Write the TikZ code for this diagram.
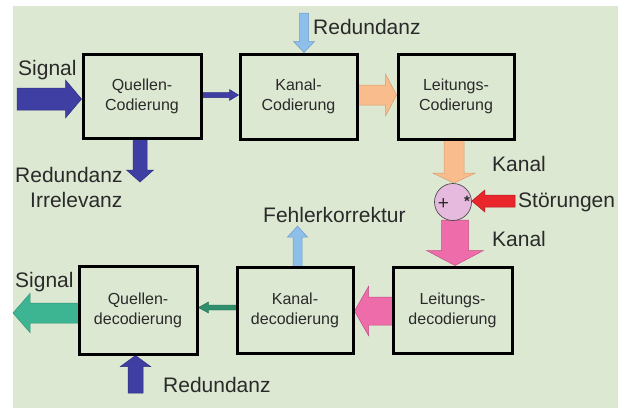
\documentclass[tikz,border=0pt]{standalone}
\usepackage{fontspec}
\setmainfont{Liberation Sans}
\usetikzlibrary{calc,backgrounds}
\definecolor{bgc}{HTML}{DDE8D3}
\definecolor{dblue}{HTML}{3F3FA3}
\definecolor{dbluel}{HTML}{2E2E80}
\definecolor{lblue}{HTML}{8DBFEA}
\definecolor{lbluel}{HTML}{6A9CCB}
\definecolor{peach}{HTML}{F9BD8D}
\definecolor{peachl}{HTML}{D89A6A}
\definecolor{redc}{HTML}{E8262B}
\definecolor{redl}{HTML}{B01A1E}
\definecolor{pinkc}{HTML}{EE6CA9}
\definecolor{pinkl}{HTML}{C24E86}
\definecolor{dgreen}{HTML}{2F8F6C}
\definecolor{teal}{HTML}{3DB592}
\definecolor{teall}{HTML}{2E9576}
\definecolor{circc}{HTML}{E6B9DF}
\definecolor{txt}{HTML}{2A2A2A}
% horizontal block arrow: style, from, to, shaft half, head half, head length
\newcommand\harrow[6]{\filldraw[#1] let \p1=#2, \p2=#3, \n1={ifthenelse(\x2>\x1,1,-1)} in
  ({\x1},{\y1+#4}) -- ({\x2-(\n1)*#6},{\y1+#4}) -- ({\x2-(\n1)*#6},{\y1+#5}) -- ({\x2},{\y1})
  -- ({\x2-(\n1)*#6},{\y1-#5}) -- ({\x2-(\n1)*#6},{\y1-#4}) -- ({\x1},{\y1-#4}) -- cycle;}
% vertical block arrow
\newcommand\varrow[6]{\filldraw[#1] let \p1=#2, \p2=#3, \n1={ifthenelse(\y2>\y1,1,-1)} in
  ({\x1+#4},{\y1}) -- ({\x1+#4},{\y2-(\n1)*#6}) -- ({\x1+#5},{\y2-(\n1)*#6}) -- ({\x1},{\y2})
  -- ({\x1-#5},{\y2-(\n1)*#6}) -- ({\x1-#4},{\y2-(\n1)*#6}) -- ({\x1-#4},{\y1}) -- cycle;}
\begin{document}
\begin{tikzpicture}[x=1pt,y=-1pt,
  box/.style={draw=black, line width=3pt, inner sep=0pt, align=center, text=txt,
    font=\fontsize{16}{20}\selectfont},
  lab/.style={anchor=base west, inner sep=0pt, text=txt, font=\fontsize{21}{21}\selectfont},
  ardb/.style={fill=dblue, draw=dbluel, line width=0.5pt},
  arlb/.style={fill=lblue, draw=lbluel, line width=0.5pt},
  arpe/.style={fill=peach, draw=peachl, line width=0.5pt},
  arre/.style={fill=redc, draw=redl, line width=0.5pt},
  arpi/.style={fill=pinkc, draw=pinkl, line width=0.5pt},
  ardg/.style={fill=dgreen, draw=dgreen!70!black, line width=0.4pt},
  arte/.style={fill=teal, draw=teall, line width=0.5pt}]
\begin{scope}[on background layer]
  \path[use as bounding box, fill=white] (0,0) rectangle (630,410);
  \fill[bgc] (13,6) rectangle (618,408);
\end{scope}
% boxes
\node[box, minimum width=118pt, minimum height=84pt] (qc) at (142,96) {Quellen-\\Codierung};
\node[box, minimum width=117pt, minimum height=85pt] (kc) at (298.5,96.5) {Kanal-\\Codierung};
\node[box, minimum width=116pt, minimum height=85pt] (lc) at (456,96.5) {Leitungs-\\Codierung};
\node[box, minimum width=118pt, minimum height=88pt] (qd) at (138,310) {Quellen-\\decodierung};
\node[box, minimum width=116pt, minimum height=86pt] (kd) at (295,310) {Kanal-\\decodierung};
\node[box, minimum width=119pt, minimum height=86pt] (ld) at (452.5,310) {Leitungs-\\decodierung};
% channel / disturbance
\node[circle, draw=black!70, fill=circc, line width=0.7pt, minimum size=37pt, inner sep=0pt] (st) at (453,202) {};
\node[inner sep=0pt, text=txt, font=\fontsize{19}{19}\selectfont] (plus) at (443.5,204) {+};
\node[inner sep=0pt, text=txt, font=\fontsize{15}{15}\bfseries] (star) at (467,201.5) {*};
% labels
\node[lab] (sig1) at (18,75) {Signal};
\node[lab] (red1) at (313,34) {Redundanz};
\node[lab] (red2) at (15,182) {Redundanz};
\node[lab] (irr) at (30,207) {Irrelevanz};
\node[lab] (kan1) at (492,171) {Kanal};
\node[lab] (stoer) at (518,207) {Störungen};
\node[lab] (kan2) at (492,246) {Kanal};
\node[lab] (fk) at (263,222) {Fehlerkorrektur};
\node[lab] (sig2) at (15,287) {Signal};
\node[lab] (red3) at (163,392) {Redundanz};
\coordinate (sigin) at (17,99);
\coordinate (redtop) at (304,13);
\coordinate (qcdown) at (140,182);
\coordinate (stin) at (515,201);
\coordinate (sigout) at (13,313);
\coordinate (fkend) at (297.5,226);
\coordinate (redbot) at (135.5,393);
% arrows
\begin{scope}[on background layer]
  \harrow{ardb}{(sigin)}{(qc.west)}{11pt}{19pt}{16pt}
  \harrow{ardb}{(201,95)}{(kc.west)}{2.5pt}{5.5pt}{9pt}
  \varrow{ardb}{(140,138)}{(qcdown)}{7pt}{13.5pt}{12pt}
  \varrow{arlb}{(redtop)}{(kc.north)}{4.5pt}{10.5pt}{11pt}
  \harrow{arpe}{(357,95)}{(lc.west)}{10pt}{21pt}{11pt}
  \varrow{arpe}{(454,139)}{(st.north)}{10pt}{21pt}{10pt}
  \harrow{arre}{(stin)}{(st.east)}{6pt}{11pt}{13pt}
  \varrow{arpi}{(455,220)}{(ld.north)}{13.5pt}{28.5pt}{15pt}
  \harrow{arpi}{(393,311)}{(kd.east)}{14pt}{24.5pt}{14pt}
  \harrow{ardg}{(237,307.5)}{(qd.east)}{2.5pt}{5.5pt}{10pt}
  \harrow{arte}{(79,313)}{(sigout)}{10pt}{19.5pt}{17pt}
  \varrow{arlb}{(297.5,267)}{(fkend)}{4.5pt}{10pt}{11pt}
  \varrow{ardb}{(redbot)}{(qd.south)}{7.5pt}{15pt}{11pt}
\end{scope}
\end{tikzpicture}
\end{document}
